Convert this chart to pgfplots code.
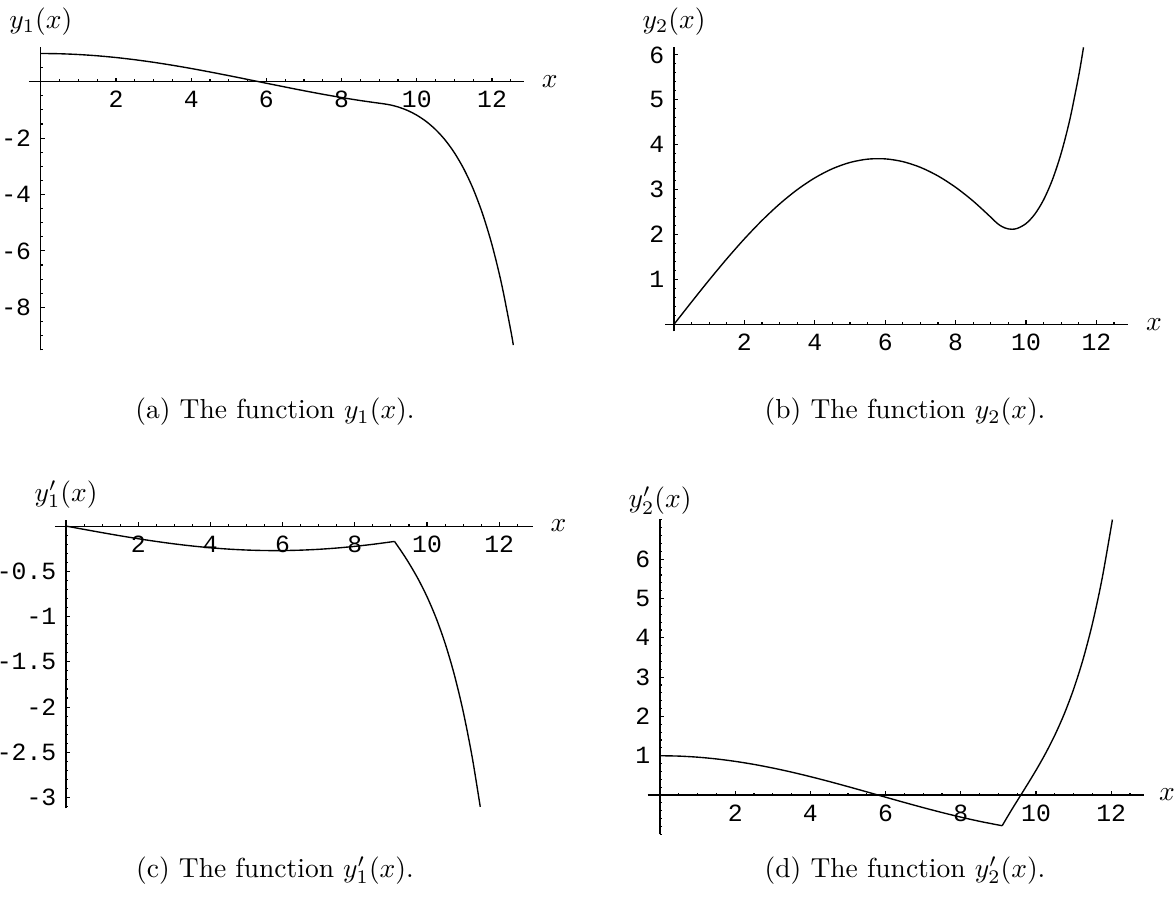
\documentclass[border=0pt]{standalone}
\usepackage{fontspec}
\usepackage{pgfplots}
\pgfplotsset{compat=1.18}
\newfontfamily\tickfont{Liberation Mono}

\pgfplotsset{
  mathplot/.style={
    axis lines=middle,
    axis line style={-, line width=0.4pt},
    every inner x axis line/.append style={-},
    every inner y axis line/.append style={-},
    anchor=origin,
    clip=false,
    tick align=inside,
    major tick length=1.5pt,
    minor tick length=0.8pt,
    tick style={line width=0.4pt, black},
    tick label style={font=\tickfont\fontsize{9}{10}\selectfont},
    xtick={2,4,6,8,10,12},
    xticklabels={2,4,6,8,10,12},
    minor xtick={0.5,1,...,12.5},
  },
  curve/.style={black, line width=0.5pt, smooth, no marks},
}

\begin{document}
\begin{tikzpicture}
\useasboundingbox (0,0) rectangle (427.27pt,-328pt);

% (a) y_1(x)
\begin{axis}[mathplot, at={(14.836pt,-29.709pt)},
  x=13.673pt, y=10.255pt,
  xmin=-0.32, xmax=12.85, ymin=-9.53, ymax=1.23,
  ytick={-8,-6,-4,-2}, yticklabels={-8,-6,-4,-2},
  minor ytick={-9.5,-9,...,1}]
\addplot[curve] coordinates {
 (0,1) (0.5,0.99083) (1,0.96350) (1.5,0.91851) (2,0.85670) (2.5,0.77914)
 (3,0.68732) (3.5,0.58290) (4,0.46780) (4.5,0.34412) (5,0.21413)
 (5.5,0.08021) (6,-0.05517) (6.5,-0.18955) (7,-0.32045) (7.5,-0.44547)
 (8,-0.56233) (8.5,-0.66888) (9,-0.76317) (9.1,-0.78040) (9.3,-0.82575)
 (9.5,-0.89503) (9.75,-1.01840) (10,-1.18793) (10.25,-1.41130)
 (10.5,-1.69864) (10.75,-2.06298) (11,-2.52082) (11.25,-3.09292)
 (11.5,-3.80522) (11.75,-4.68998) (12,-5.78733) (12.25,-7.14700)
 (12.5,-8.83066) (12.566,-9.33836)};
\node[anchor=west] at (axis cs:12.85,0) [xshift=3pt] {$x$};
\node at (axis cs:0,1.23) [yshift=9.3pt] {$y_1(x)$};
\end{axis}

% (b) y_2(x)
\begin{axis}[mathplot, at={(245.091pt,-117.927pt)},
  x=12.8pt, y=16.327pt,
  xmin=-0.25, xmax=12.9, ymin=-0.16, ymax=6.17,
  ytick={1,2,3,4,5,6}, yticklabels={1,2,3,4,5,6},
  minor ytick={0.2,0.4,...,6.1}]
\addplot[curve] coordinates {
 (0,0) (0.5,0.49849) (1,0.98783) (1.5,1.45904) (2,1.90351) (2.5,2.31310)
 (3,2.68026) (3.5,2.99831) (4,3.26137) (4.5,3.46469) (5,3.60447)
 (5.5,3.67816) (6,3.68443) (6.5,3.62314) (7,3.49546) (7.5,3.30369)
 (8,3.05133) (8.5,2.74306) (9,2.38451) (9.1,2.30734) (9.2,2.23754)
 (9.3,2.18393) (9.4,2.14610) (9.5,2.12379) (9.6,2.11683) (9.75,2.13509)
 (10,2.24319) (10.25,2.45293) (10.5,2.77387) (10.75,3.22054) (11,3.81320)
 (11.25,4.57866) (11.5,5.55168) (11.633,6.1686)};
\node[anchor=west] at (axis cs:12.9,0) [xshift=3pt] {$x$};
\node at (axis cs:0,6.17) [yshift=9.3pt] {$y_2(x)$};
\end{axis}

% (c) y_1'(x)
\begin{axis}[mathplot, at={(24pt,-191.3pt)},
  x=13.127pt, y=32.909pt,
  xmin=-0.31, xmax=12.93, ymin=-3.12, ymax=0.07,
  ytick={-3,-2.5,-2,-1.5,-1,-0.5}, yticklabels={-3,-2.5,-2,-1.5,-1,-0.5},
  minor ytick={-3.1,-3,...,0}]
\addplot[curve] coordinates {
 (0,0) (0.5,-0.03661) (1,-0.07255) (1.5,-0.10715) (2,-0.13980)
 (2.5,-0.16988) (3,-0.19684) (3.5,-0.22020) (4,-0.23952) (4.5,-0.25445)
 (5,-0.26472) (5.5,-0.27013) (6,-0.27059) (6.5,-0.26609) (7,-0.25671)
 (7.5,-0.24263) (8,-0.22409) (8.5,-0.20145) (9,-0.17512) (9.1,-0.16945)};
\addplot[curve] coordinates {
 (9.1,-0.16945) (9.3,-0.28522) (9.5,-0.40925) (9.75,-0.58141)
 (10,-0.77992) (10.25,-1.01378) (10.5,-1.29360) (10.75,-1.63205)
 (11,-2.04447) (11.25,-2.54957) (11.475,-3.1022)};
\node[anchor=west] at (axis cs:12.93,0) [xshift=3pt] {$x$};
\node at (axis cs:0,0.07) [yshift=9.3pt] {$y_1'(x)$};
\end{axis}

% (d) y_2'(x)
\begin{axis}[mathplot, at={(240pt,-289.1pt)},
  x=13.673pt, y=14.29pt,
  xmin=-0.33, xmax=12.87, ymin=-1.0, ymax=7.02,
  ytick={1,2,3,4,5,6}, yticklabels={1,2,3,4,5,6},
  minor ytick={-1,-0.8,...,7}]
\addplot[curve] coordinates {
 (0,1) (0.5,0.99083) (1,0.96350) (1.5,0.91851) (2,0.85670) (2.5,0.77914)
 (3,0.68732) (3.5,0.58290) (4,0.46780) (4.5,0.34412) (5,0.21413)
 (5.5,0.08021) (6,-0.05517) (6.5,-0.18955) (7,-0.32045) (7.5,-0.44547)
 (8,-0.56233) (8.5,-0.66888) (9,-0.76317) (9.1,-0.78040)};
\addplot[curve] coordinates {
 (9.1,-0.78040) (9.3,-0.45669) (9.5,-0.14620) (9.75,0.23699) (10,0.63092)
 (10.25,1.05345) (10.5,1.52373) (10.75,2.06307) (11,2.69592)
 (11.25,3.45097) (11.5,4.36245) (11.75,5.47165) (12,6.82888) (12.03,7.011)};
\node[anchor=west] at (axis cs:12.87,0) [xshift=2pt] {$x$};
\node at (axis cs:0,7.02) [yshift=6.8pt] {$y_2'(x)$};
\end{axis}

% captions
\node at (100pt,-149.82pt) {(a) The function $y_1(x)$.};
\node at (329.09pt,-149.82pt) {(b) The function $y_2(x)$.};
\node at (100pt,-316.4pt) {(c) The function $y_1'(x)$.};
\node at (329.09pt,-316.4pt) {(d) The function $y_2'(x)$.};
\end{tikzpicture}
\end{document}
